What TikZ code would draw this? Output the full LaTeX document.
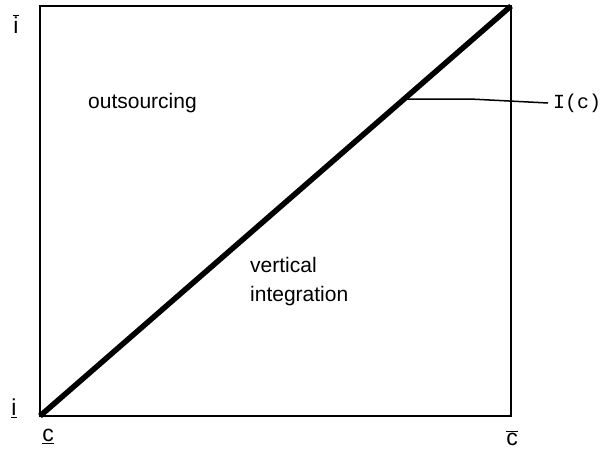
\documentclass[tikz,border=0pt]{standalone}
\usepackage{fontspec}
\setmainfont{Liberation Sans}
\newfontfamily\monofont{Liberation Mono}
\begin{document}
\begin{tikzpicture}[x=1pt,y=-1pt,
  lbl/.style={inner sep=0pt,font=\fontsize{21}{29}\selectfont,align=left},
  axl/.style={inner sep=0pt,font=\fontsize{23}{26}\selectfont}]
\useasboundingbox (0,0) rectangle (605,455);
\coordinate (bl) at (40,416);
\coordinate (tr) at (511,6);
\draw[line width=1.8pt] (bl) rectangle (tr);
\draw[line width=5.5pt] (bl) -- (tr) coordinate[pos=0.773] (p);
\coordinate (q) at (548,103);
\draw[line width=1.5pt] (p) -- (470,99) -- (q);
\node[anchor=west,inner sep=0pt,font=\monofont\fontsize{20}{24}\selectfont] (Ic) at (553,103) {I(c)};
\node[lbl,anchor=west] (out) at (88,103) {outsourcing};
\node[lbl,anchor=north west] (vi) at (250,257) {vertical\\integration};
\node[axl] (ibar) at (16,24) {$\overline{\mbox{i}}$};
\node[axl] (iund) at (14,408) {\underline{i}};
\node[axl] (cund) at (48,436) {\underline{c}};
\node[axl] (cbar) at (512,438) {$\overline{\mbox{c}}$};
\end{tikzpicture}
\end{document}
